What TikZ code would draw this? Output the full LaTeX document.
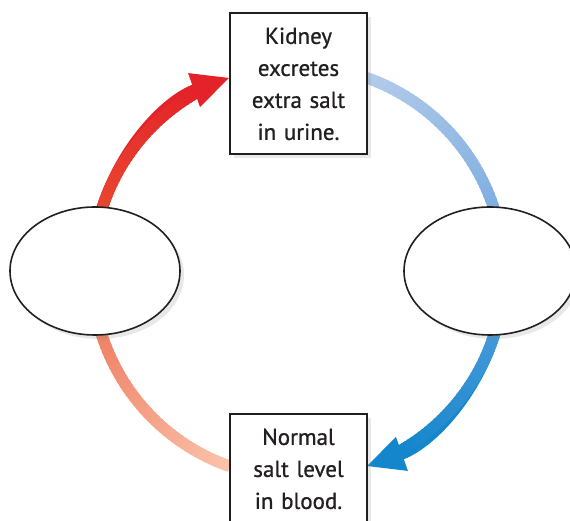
\documentclass[tikz,border=0pt]{standalone}
\usepackage{fontspec}
\setmainfont{PT Sans}[BoldFont=PT Sans, BoldFeatures={FakeBold=0.8}]
\usetikzlibrary{shapes.geometric,arrows.meta,shadows}
\definecolor{redA}{HTML}{E94B30}
\definecolor{redB}{HTML}{E32329}
\definecolor{salA}{HTML}{EE7B5E}
\definecolor{salB}{HTML}{FAC3AB}
\definecolor{bluA}{HTML}{B3CBEA}
\definecolor{bluB}{HTML}{7AABDF}
\definecolor{blcA}{HTML}{4A9BD9}
\definecolor{blcB}{HTML}{1486CB}
\definecolor{txt}{HTML}{231F20}
\newcommand\gradarc[4]{%
  \foreach \i in {0,...,39}{%
    \pgfmathsetmacro\aa{#1+(#2-#1)*\i/40}%
    \pgfmathsetmacro\bb{#1+(#2-#1)*min(\i+1.5,40)/40}%
    \pgfmathtruncatemacro\pp{100*\i/39}%
    \draw[flow,#4!\pp!#3] (c) ++(\aa:206) arc[start angle=\aa,end angle=\bb,radius=206];
  }}
\begin{document}
\begin{tikzpicture}[x=1pt,y=1pt,
  flow/.style={line width=11.5pt},
  headtip/.style={-{Triangle[length=38pt,width=33pt]}},
  shade/.style={drop shadow={shadow xshift=4pt,shadow yshift=-4pt,opacity=0.18}},
  textbox/.style={draw=txt, line width=1.8pt, fill=white, minimum width=137pt,
    text width=125pt, align=center, font=\fontsize{23}{32}\selectfont\bfseries, text=txt,
    inner ysep=14pt, text height=17pt, anchor=north, shade},
  blank/.style={draw=txt, ellipse, line width=1.6pt, fill=white,
    minimum width=170pt, minimum height=128pt, inner sep=0pt, shade}]
\useasboundingbox (0,0) rectangle (570,521);
\clip (0,0) rectangle (570,521);
\coordinate (c) at (298,249);
% top-left arc with arrow
\draw[flow,redB,headtip] (c) ++(168:206) arc[start angle=168,end angle=109.3,radius=206];
\gradarc{168}{120}{redA}{redB}
% bottom-left arc
\gradarc{192}{250.7}{salA}{salB}
% top-right arc
\gradarc{70.7}{12}{bluA}{bluB}
% bottom-right arc with arrow
\draw[flow,blcB,headtip] (c) ++(-12:206) arc[start angle=-12,end angle=-70.7,radius=206];
\gradarc{-12}{-60}{blcA}{blcB}
% nodes
\node[blank] (left) at (95,250) {};
\node[blank, minimum width=172pt] (right) at (490,250) {};
\node[textbox, text depth=96pt] (kidney) at (298.5,509) {Kidney\\excretes\\extra salt\\in urine.};
\node[textbox, text depth=110pt] (normal) at (298.5,108) {Normal\\salt level\\in blood.};
\end{tikzpicture}
\end{document}
